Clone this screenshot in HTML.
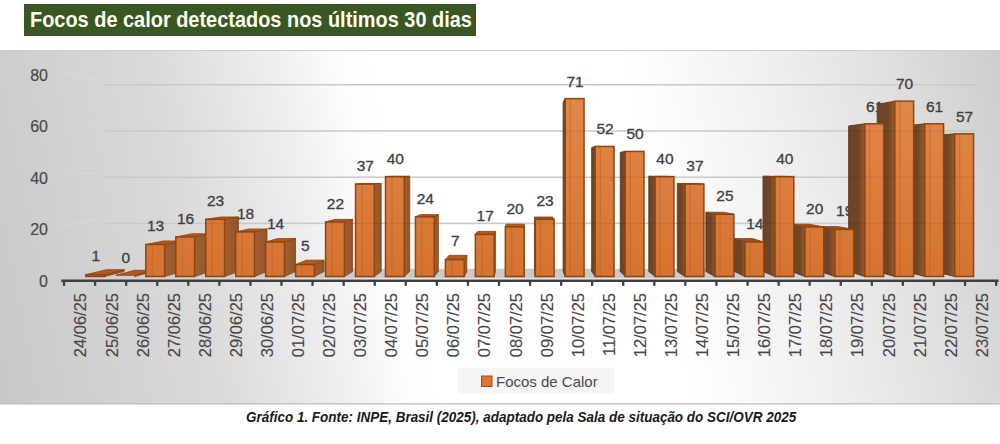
<!DOCTYPE html>
<html><head><meta charset="utf-8">
<style>
html,body{margin:0;padding:0;background:#fff;}
body{width:1000px;height:444px;overflow:hidden;position:relative;font-family:"Liberation Sans",sans-serif;}
#title{position:absolute;left:24px;top:4px;width:452px;height:31.5px;background:#385723;}
#title span{position:absolute;left:6px;top:4px;color:#fffff2;font-weight:bold;font-size:21.5px;line-height:24px;white-space:nowrap;transform:scaleX(0.927);transform-origin:0 0;}
#cap{position:absolute;left:246px;top:409px;font-weight:bold;font-style:italic;font-size:14px;color:#1a1a1a;white-space:nowrap;transform:scaleX(0.962);transform-origin:0 0;}
svg{position:absolute;left:0;top:0;}
</style></head><body>
<svg width="1000" height="444" viewBox="0 0 1000 444">
<defs>
<linearGradient id="bg" x1="-80" y1="0" x2="1000" y2="0" gradientUnits="userSpaceOnUse" gradientTransform="skewX(11.3)">
<stop offset="0" stop-color="#c8c8c8"/>
<stop offset="0.2037" stop-color="#dadada"/>
<stop offset="0.3241" stop-color="#f0f0f0"/>
<stop offset="0.3796" stop-color="#fdfdfd"/>
<stop offset="0.4074" stop-color="#ffffff"/>
<stop offset="0.6389" stop-color="#ffffff"/>
<stop offset="0.6667" stop-color="#fcfcfc"/>
<stop offset="0.7685" stop-color="#f0f0f0"/>
<stop offset="0.8796" stop-color="#e0e0e0"/>
<stop offset="1" stop-color="#cccccc"/>
</linearGradient>
<linearGradient id="fg" x1="0" y1="0" x2="1" y2="0">
<stop offset="0" stop-color="#e38a48"/>
<stop offset="0.3" stop-color="#e08644"/>
<stop offset="0.33" stop-color="#c96b2b"/>
<stop offset="0.38" stop-color="#da7835"/>
<stop offset="0.85" stop-color="#d87431"/>
<stop offset="1" stop-color="#c8621f"/>
</linearGradient>
<linearGradient id="fv" x1="0" y1="95" x2="0" y2="277" gradientUnits="userSpaceOnUse">
<stop offset="0" stop-color="#e2884a"/>
<stop offset="1" stop-color="#d57331"/>
</linearGradient>
<linearGradient id="sl" x1="0" y1="0" x2="1" y2="0">
<stop offset="0" stop-color="#a3602f"/>
<stop offset="1" stop-color="#90552b"/>
</linearGradient>
<linearGradient id="sr" x1="0" y1="0" x2="1" y2="0">
<stop offset="0" stop-color="#6a4526"/>
<stop offset="0.6" stop-color="#6e4627"/>
<stop offset="1" stop-color="#9a5a2a"/>
</linearGradient>
<linearGradient id="gl" x1="105" y1="0" x2="975" y2="0" gradientUnits="userSpaceOnUse">
<stop offset="0" stop-color="#d8d8d8" stop-opacity="0"/>
<stop offset="0.03" stop-color="#d6d6d6"/>
<stop offset="0.8" stop-color="#d6d6d6"/>
<stop offset="1" stop-color="#d6d6d6" stop-opacity="0"/>
</linearGradient>
<linearGradient id="fl" x1="62" y1="0" x2="998" y2="0" gradientUnits="userSpaceOnUse">
<stop offset="0" stop-color="#c0c0c0" stop-opacity="0"/>
<stop offset="0.3" stop-color="#c4c4c4" stop-opacity="0.9"/>
<stop offset="0.7" stop-color="#c4c4c4" stop-opacity="0.9"/>
<stop offset="1" stop-color="#c0c0c0" stop-opacity="0"/>
</linearGradient>
</defs>
<rect x="0" y="50" width="1000" height="354" fill="url(#bg)"/>
<line x1="0" y1="50.5" x2="1000" y2="50.5" stroke="#cdcdcd" stroke-width="1"/>
<line x1="0" y1="403.8" x2="1000" y2="403.8" stroke="#bdbdbd" stroke-width="1.2"/>
<line x1="62" y1="226.0" x2="98" y2="219.4" stroke="#ffffff" stroke-opacity="0.15" stroke-width="1.2"/>
<line x1="105" y1="223.4" x2="975" y2="223.4" stroke="url(#gl)" stroke-width="1.6"/>
<line x1="62" y1="174.5" x2="98" y2="173.2" stroke="#ffffff" stroke-opacity="0.15" stroke-width="1.2"/>
<line x1="105" y1="177.2" x2="975" y2="177.2" stroke="url(#gl)" stroke-width="1.6"/>
<line x1="62" y1="123.0" x2="98" y2="127.0" stroke="#ffffff" stroke-opacity="0.15" stroke-width="1.2"/>
<line x1="105" y1="131.0" x2="975" y2="131.0" stroke="url(#gl)" stroke-width="1.6"/>
<line x1="62" y1="71.5" x2="98" y2="80.8" stroke="#ffffff" stroke-opacity="0.15" stroke-width="1.2"/>
<line x1="105" y1="84.8" x2="975" y2="84.8" stroke="url(#gl)" stroke-width="1.6"/>
<polygon points="62.00,278.60 998.00,278.60 985.00,268.80 80.00,268.80" fill="url(#fl)"/>
<g font-family="Liberation Sans" font-size="15.5" fill="#404040" stroke="#404040" stroke-width="0.3">
<text x="95.7" y="260.9" text-anchor="middle">1</text>
<text x="125.7" y="263.3" text-anchor="middle">0</text>
<text x="155.6" y="231.0" text-anchor="middle">13</text>
<text x="185.6" y="223.6" text-anchor="middle">16</text>
<text x="215.5" y="206.2" text-anchor="middle">23</text>
<text x="245.5" y="218.6" text-anchor="middle">18</text>
<text x="275.5" y="228.5" text-anchor="middle">14</text>
<text x="305.4" y="250.9" text-anchor="middle">5</text>
<text x="335.4" y="208.7" text-anchor="middle">22</text>
<text x="365.3" y="171.4" text-anchor="middle">37</text>
<text x="395.3" y="163.9" text-anchor="middle">40</text>
<text x="425.3" y="203.7" text-anchor="middle">24</text>
<text x="455.2" y="245.9" text-anchor="middle">7</text>
<text x="485.2" y="221.1" text-anchor="middle">17</text>
<text x="515.1" y="213.6" text-anchor="middle">20</text>
<text x="545.1" y="206.2" text-anchor="middle">23</text>
<text x="575.1" y="86.9" text-anchor="middle">71</text>
<text x="605.0" y="134.1" text-anchor="middle">52</text>
<text x="635.0" y="139.1" text-anchor="middle">50</text>
<text x="664.9" y="163.9" text-anchor="middle">40</text>
<text x="694.9" y="171.4" text-anchor="middle">37</text>
<text x="724.9" y="201.2" text-anchor="middle">25</text>
<text x="754.8" y="228.5" text-anchor="middle">14</text>
<text x="784.8" y="163.9" text-anchor="middle">40</text>
<text x="814.7" y="213.6" text-anchor="middle">20</text>
<text x="844.7" y="216.1" text-anchor="middle">19</text>
<text x="874.7" y="111.8" text-anchor="middle">61</text>
<text x="904.6" y="89.4" text-anchor="middle">70</text>
<text x="934.6" y="111.8" text-anchor="middle">61</text>
<text x="964.5" y="121.7" text-anchor="middle">57</text>
</g>
<polygon points="104.70,274.69 124.22,269.76 124.22,271.49 104.70,276.50" fill="url(#sl)" stroke="#8a4a1c" stroke-width="0.9" stroke-linejoin="round"/>
<polygon points="85.90,274.69 104.70,274.69 124.22,269.76 106.30,269.76" fill="#b35b1c" stroke="#8f4512" stroke-width="0.9" stroke-linejoin="round"/>
<rect x="85.90" y="274.69" width="18.80" height="1.81" fill="url(#fv)" stroke="#8f4512" stroke-width="1.5"/>
<polygon points="134.66,275.30 152.77,270.35 152.77,271.49 134.66,276.50" fill="url(#sl)" stroke="#8a4a1c" stroke-width="0.9" stroke-linejoin="round"/>
<polygon points="115.86,275.30 134.66,275.30 152.77,270.35 134.85,270.35" fill="#b35b1c" stroke="#8f4512" stroke-width="0.9" stroke-linejoin="round"/>
<polygon points="164.62,244.50 181.32,241.00 181.32,271.49 164.62,276.50" fill="url(#sl)" stroke="#8a4a1c" stroke-width="0.9" stroke-linejoin="round"/>
<polygon points="145.82,244.50 164.62,244.50 181.32,241.00 163.41,241.00" fill="#b35b1c" stroke="#8f4512" stroke-width="0.9" stroke-linejoin="round"/>
<rect x="145.82" y="244.50" width="18.80" height="32.00" fill="url(#fv)" stroke="#8f4512" stroke-width="1.5"/>
<line x1="152.32" y1="245.50" x2="152.32" y2="275.50" stroke="#b85d1d" stroke-opacity="0.55" stroke-width="1"/>
<polygon points="194.58,236.96 209.87,233.81 209.87,271.49 194.58,276.50" fill="url(#sl)" stroke="#8a4a1c" stroke-width="0.9" stroke-linejoin="round"/>
<polygon points="175.78,236.96 194.58,236.96 209.87,233.81 191.96,233.81" fill="#b35b1c" stroke="#8f4512" stroke-width="0.9" stroke-linejoin="round"/>
<rect x="175.78" y="236.96" width="18.80" height="39.54" fill="url(#fv)" stroke="#8f4512" stroke-width="1.5"/>
<line x1="182.28" y1="237.96" x2="182.28" y2="275.50" stroke="#b85d1d" stroke-opacity="0.55" stroke-width="1"/>
<polygon points="224.54,219.35 238.43,217.04 238.43,271.49 224.54,276.50" fill="url(#sl)" stroke="#8a4a1c" stroke-width="0.9" stroke-linejoin="round"/>
<polygon points="205.74,219.35 224.54,219.35 238.43,217.04 220.51,217.04" fill="#b35b1c" stroke="#8f4512" stroke-width="0.9" stroke-linejoin="round"/>
<rect x="205.74" y="219.35" width="18.80" height="57.15" fill="url(#fv)" stroke="#8f4512" stroke-width="1.5"/>
<line x1="212.24" y1="220.35" x2="212.24" y2="275.50" stroke="#b85d1d" stroke-opacity="0.55" stroke-width="1"/>
<polygon points="254.50,231.93 266.98,229.02 266.98,271.49 254.50,276.50" fill="url(#sl)" stroke="#8a4a1c" stroke-width="0.9" stroke-linejoin="round"/>
<polygon points="235.70,231.93 254.50,231.93 266.98,229.02 249.06,229.02" fill="#b35b1c" stroke="#8f4512" stroke-width="0.9" stroke-linejoin="round"/>
<rect x="235.70" y="231.93" width="18.80" height="44.57" fill="url(#fv)" stroke="#8f4512" stroke-width="1.5"/>
<line x1="242.20" y1="232.93" x2="242.20" y2="275.50" stroke="#b85d1d" stroke-opacity="0.55" stroke-width="1"/>
<polygon points="284.46,241.99 295.53,238.61 295.53,271.49 284.46,276.50" fill="url(#sl)" stroke="#8a4a1c" stroke-width="0.9" stroke-linejoin="round"/>
<polygon points="265.66,241.99 284.46,241.99 295.53,238.61 277.61,238.61" fill="#b35b1c" stroke="#8f4512" stroke-width="0.9" stroke-linejoin="round"/>
<rect x="265.66" y="241.99" width="18.80" height="34.51" fill="url(#fv)" stroke="#8f4512" stroke-width="1.5"/>
<line x1="272.16" y1="242.99" x2="272.16" y2="275.50" stroke="#b85d1d" stroke-opacity="0.55" stroke-width="1"/>
<polygon points="314.42,264.62 324.08,260.18 324.08,271.49 314.42,276.50" fill="url(#sl)" stroke="#8a4a1c" stroke-width="0.9" stroke-linejoin="round"/>
<polygon points="295.62,264.62 314.42,264.62 324.08,260.18 306.17,260.18" fill="#b35b1c" stroke="#8f4512" stroke-width="0.9" stroke-linejoin="round"/>
<rect x="295.62" y="264.62" width="18.80" height="11.88" fill="url(#fv)" stroke="#8f4512" stroke-width="1.5"/>
<line x1="302.12" y1="265.62" x2="302.12" y2="275.50" stroke="#b85d1d" stroke-opacity="0.55" stroke-width="1"/>
<polygon points="344.38,221.87 352.63,219.43 352.63,271.49 344.38,276.50" fill="url(#sl)" stroke="#8a4a1c" stroke-width="0.9" stroke-linejoin="round"/>
<polygon points="325.58,221.87 344.38,221.87 352.63,219.43 334.72,219.43" fill="#b35b1c" stroke="#8f4512" stroke-width="0.9" stroke-linejoin="round"/>
<rect x="325.58" y="221.87" width="18.80" height="54.63" fill="url(#fv)" stroke="#8f4512" stroke-width="1.5"/>
<line x1="332.08" y1="222.87" x2="332.08" y2="275.50" stroke="#b85d1d" stroke-opacity="0.55" stroke-width="1"/>
<polygon points="374.34,184.14 381.19,183.48 381.19,271.49 374.34,276.50" fill="url(#sl)" stroke="#8a4a1c" stroke-width="0.9" stroke-linejoin="round"/>
<polygon points="355.54,184.14 374.34,184.14 381.19,183.48 363.27,183.48" fill="#b35b1c" stroke="#8f4512" stroke-width="0.9" stroke-linejoin="round"/>
<rect x="355.54" y="184.14" width="18.80" height="92.36" fill="url(#fv)" stroke="#8f4512" stroke-width="1.5"/>
<line x1="362.04" y1="185.14" x2="362.04" y2="275.50" stroke="#b85d1d" stroke-opacity="0.55" stroke-width="1"/>
<polygon points="404.30,176.60 409.74,176.29 409.74,271.49 404.30,276.50" fill="url(#sl)" stroke="#8a4a1c" stroke-width="0.9" stroke-linejoin="round"/>
<polygon points="385.50,176.60 404.30,176.60 409.74,176.29 391.82,176.29" fill="#b35b1c" stroke="#8f4512" stroke-width="0.9" stroke-linejoin="round"/>
<rect x="385.50" y="176.60" width="18.80" height="99.90" fill="url(#fv)" stroke="#8f4512" stroke-width="1.5"/>
<line x1="392.00" y1="177.60" x2="392.00" y2="275.50" stroke="#b85d1d" stroke-opacity="0.55" stroke-width="1"/>
<polygon points="434.26,216.84 438.29,214.64 438.29,271.49 434.26,276.50" fill="url(#sl)" stroke="#8a4a1c" stroke-width="0.9" stroke-linejoin="round"/>
<polygon points="415.46,216.84 434.26,216.84 438.29,214.64 420.37,214.64" fill="#b35b1c" stroke="#8f4512" stroke-width="0.9" stroke-linejoin="round"/>
<rect x="415.46" y="216.84" width="18.80" height="59.66" fill="url(#fv)" stroke="#8f4512" stroke-width="1.5"/>
<line x1="421.96" y1="217.84" x2="421.96" y2="275.50" stroke="#b85d1d" stroke-opacity="0.55" stroke-width="1"/>
<polygon points="464.22,259.59 466.84,255.38 466.84,271.49 464.22,276.50" fill="url(#sl)" stroke="#8a4a1c" stroke-width="0.9" stroke-linejoin="round"/>
<polygon points="445.42,259.59 464.22,259.59 466.84,255.38 448.93,255.38" fill="#b35b1c" stroke="#8f4512" stroke-width="0.9" stroke-linejoin="round"/>
<rect x="445.42" y="259.59" width="18.80" height="16.91" fill="url(#fv)" stroke="#8f4512" stroke-width="1.5"/>
<line x1="451.92" y1="260.59" x2="451.92" y2="275.50" stroke="#b85d1d" stroke-opacity="0.55" stroke-width="1"/>
<polygon points="494.18,234.44 495.39,231.42 495.39,271.49 494.18,276.50" fill="url(#sl)" stroke="#8a4a1c" stroke-width="0.9" stroke-linejoin="round"/>
<polygon points="475.38,234.44 494.18,234.44 495.39,231.42 477.48,231.42" fill="#b35b1c" stroke="#8f4512" stroke-width="0.9" stroke-linejoin="round"/>
<rect x="475.38" y="234.44" width="18.80" height="42.06" fill="url(#fv)" stroke="#8f4512" stroke-width="1.5"/>
<line x1="481.88" y1="235.44" x2="481.88" y2="275.50" stroke="#b85d1d" stroke-opacity="0.55" stroke-width="1"/>
<polygon points="524.14,226.90 523.95,224.23 523.95,271.49 524.14,276.50" fill="url(#sl)" stroke="#8a4a1c" stroke-width="0.9" stroke-linejoin="round"/>
<polygon points="505.34,226.90 524.14,226.90 523.95,224.23 506.03,224.23" fill="#b35b1c" stroke="#8f4512" stroke-width="0.9" stroke-linejoin="round"/>
<rect x="505.34" y="226.90" width="18.80" height="49.60" fill="url(#fv)" stroke="#8f4512" stroke-width="1.5"/>
<line x1="511.84" y1="227.90" x2="511.84" y2="275.50" stroke="#b85d1d" stroke-opacity="0.55" stroke-width="1"/>
<polygon points="954.74,133.84 934.31,135.54 934.31,271.49 954.74,276.50" fill="url(#sr)" stroke="#5e3617" stroke-width="0.9" stroke-linejoin="round"/>
<rect x="954.74" y="133.84" width="18.80" height="142.66" fill="url(#fv)" stroke="#8f4512" stroke-width="1.5"/>
<line x1="959.74" y1="134.84" x2="959.74" y2="275.50" stroke="#b85d1d" stroke-opacity="0.55" stroke-width="1"/>
<polygon points="924.78,123.78 905.76,125.96 905.76,271.49 924.78,276.50" fill="url(#sr)" stroke="#5e3617" stroke-width="0.9" stroke-linejoin="round"/>
<rect x="924.78" y="123.78" width="18.80" height="152.72" fill="url(#fv)" stroke="#8f4512" stroke-width="1.5"/>
<line x1="929.78" y1="124.78" x2="929.78" y2="275.50" stroke="#b85d1d" stroke-opacity="0.55" stroke-width="1"/>
<polygon points="894.82,101.15 877.20,104.39 877.20,271.49 894.82,276.50" fill="url(#sr)" stroke="#5e3617" stroke-width="0.9" stroke-linejoin="round"/>
<rect x="894.82" y="101.15" width="18.80" height="175.35" fill="url(#fv)" stroke="#8f4512" stroke-width="1.5"/>
<line x1="899.82" y1="102.15" x2="899.82" y2="275.50" stroke="#b85d1d" stroke-opacity="0.55" stroke-width="1"/>
<polygon points="864.86,123.78 848.65,125.96 848.65,271.49 864.86,276.50" fill="url(#sr)" stroke="#5e3617" stroke-width="0.9" stroke-linejoin="round"/>
<rect x="864.86" y="123.78" width="18.80" height="152.72" fill="url(#fv)" stroke="#8f4512" stroke-width="1.5"/>
<line x1="869.86" y1="124.78" x2="869.86" y2="275.50" stroke="#b85d1d" stroke-opacity="0.55" stroke-width="1"/>
<polygon points="834.90,229.41 820.10,226.62 820.10,271.49 834.90,276.50" fill="url(#sr)" stroke="#5e3617" stroke-width="0.9" stroke-linejoin="round"/>
<polygon points="834.90,229.41 853.70,229.41 838.02,226.62 820.10,226.62" fill="#9a5424" stroke="#8f4512" stroke-width="0.9" stroke-linejoin="round"/>
<rect x="834.90" y="229.41" width="18.80" height="47.09" fill="url(#fv)" stroke="#8f4512" stroke-width="1.5"/>
<line x1="839.90" y1="230.41" x2="839.90" y2="275.50" stroke="#b85d1d" stroke-opacity="0.55" stroke-width="1"/>
<polygon points="804.94,226.90 791.55,224.23 791.55,271.49 804.94,276.50" fill="url(#sr)" stroke="#5e3617" stroke-width="0.9" stroke-linejoin="round"/>
<polygon points="804.94,226.90 823.74,226.90 809.46,224.23 791.55,224.23" fill="#9a5424" stroke="#8f4512" stroke-width="0.9" stroke-linejoin="round"/>
<rect x="804.94" y="226.90" width="18.80" height="49.60" fill="url(#fv)" stroke="#8f4512" stroke-width="1.5"/>
<line x1="809.94" y1="227.90" x2="809.94" y2="275.50" stroke="#b85d1d" stroke-opacity="0.55" stroke-width="1"/>
<polygon points="774.98,176.60 763.00,176.29 763.00,271.49 774.98,276.50" fill="url(#sr)" stroke="#5e3617" stroke-width="0.9" stroke-linejoin="round"/>
<polygon points="774.98,176.60 793.78,176.60 780.91,176.29 763.00,176.29" fill="#9a5424" stroke="#8f4512" stroke-width="0.9" stroke-linejoin="round"/>
<rect x="774.98" y="176.60" width="18.80" height="99.90" fill="url(#fv)" stroke="#8f4512" stroke-width="1.5"/>
<line x1="779.98" y1="177.60" x2="779.98" y2="275.50" stroke="#b85d1d" stroke-opacity="0.55" stroke-width="1"/>
<polygon points="745.02,241.99 734.44,238.61 734.44,271.49 745.02,276.50" fill="url(#sr)" stroke="#5e3617" stroke-width="0.9" stroke-linejoin="round"/>
<polygon points="745.02,241.99 763.82,241.99 752.36,238.61 734.44,238.61" fill="#9a5424" stroke="#8f4512" stroke-width="0.9" stroke-linejoin="round"/>
<rect x="745.02" y="241.99" width="18.80" height="34.51" fill="url(#fv)" stroke="#8f4512" stroke-width="1.5"/>
<line x1="750.02" y1="242.99" x2="750.02" y2="275.50" stroke="#b85d1d" stroke-opacity="0.55" stroke-width="1"/>
<polygon points="715.06,214.32 705.89,212.24 705.89,271.49 715.06,276.50" fill="url(#sr)" stroke="#5e3617" stroke-width="0.9" stroke-linejoin="round"/>
<polygon points="715.06,214.32 733.86,214.32 723.81,212.24 705.89,212.24" fill="#9a5424" stroke="#8f4512" stroke-width="0.9" stroke-linejoin="round"/>
<rect x="715.06" y="214.32" width="18.80" height="62.18" fill="url(#fv)" stroke="#8f4512" stroke-width="1.5"/>
<line x1="720.06" y1="215.32" x2="720.06" y2="275.50" stroke="#b85d1d" stroke-opacity="0.55" stroke-width="1"/>
<polygon points="685.10,184.14 677.34,183.48 677.34,271.49 685.10,276.50" fill="url(#sr)" stroke="#5e3617" stroke-width="0.9" stroke-linejoin="round"/>
<polygon points="685.10,184.14 703.90,184.14 695.26,183.48 677.34,183.48" fill="#9a5424" stroke="#8f4512" stroke-width="0.9" stroke-linejoin="round"/>
<rect x="685.10" y="184.14" width="18.80" height="92.36" fill="url(#fv)" stroke="#8f4512" stroke-width="1.5"/>
<line x1="690.10" y1="185.14" x2="690.10" y2="275.50" stroke="#b85d1d" stroke-opacity="0.55" stroke-width="1"/>
<polygon points="655.14,176.60 648.79,176.29 648.79,271.49 655.14,276.50" fill="url(#sr)" stroke="#5e3617" stroke-width="0.9" stroke-linejoin="round"/>
<polygon points="655.14,176.60 673.94,176.60 666.70,176.29 648.79,176.29" fill="#9a5424" stroke="#8f4512" stroke-width="0.9" stroke-linejoin="round"/>
<rect x="655.14" y="176.60" width="18.80" height="99.90" fill="url(#fv)" stroke="#8f4512" stroke-width="1.5"/>
<line x1="660.14" y1="177.60" x2="660.14" y2="275.50" stroke="#b85d1d" stroke-opacity="0.55" stroke-width="1"/>
<polygon points="625.18,151.45 620.24,152.32 620.24,271.49 625.18,276.50" fill="url(#sr)" stroke="#5e3617" stroke-width="0.9" stroke-linejoin="round"/>
<rect x="625.18" y="151.45" width="18.80" height="125.05" fill="url(#fv)" stroke="#8f4512" stroke-width="1.5"/>
<line x1="630.18" y1="152.45" x2="630.18" y2="275.50" stroke="#b85d1d" stroke-opacity="0.55" stroke-width="1"/>
<polygon points="595.22,146.42 591.68,147.53 591.68,271.49 595.22,276.50" fill="url(#sr)" stroke="#5e3617" stroke-width="0.9" stroke-linejoin="round"/>
<rect x="595.22" y="146.42" width="18.80" height="130.08" fill="url(#fv)" stroke="#8f4512" stroke-width="1.5"/>
<line x1="600.22" y1="147.42" x2="600.22" y2="275.50" stroke="#b85d1d" stroke-opacity="0.55" stroke-width="1"/>
<polygon points="565.26,98.63 563.13,101.99 563.13,271.49 565.26,276.50" fill="url(#sr)" stroke="#5e3617" stroke-width="0.9" stroke-linejoin="round"/>
<rect x="565.26" y="98.63" width="18.80" height="177.87" fill="url(#fv)" stroke="#8f4512" stroke-width="1.5"/>
<line x1="570.26" y1="99.63" x2="570.26" y2="275.50" stroke="#b85d1d" stroke-opacity="0.55" stroke-width="1"/>
<polygon points="535.30,219.35 534.58,217.04 534.58,271.49 535.30,276.50" fill="url(#sr)" stroke="#5e3617" stroke-width="0.9" stroke-linejoin="round"/>
<polygon points="535.30,219.35 554.10,219.35 552.50,217.04 534.58,217.04" fill="#9a5424" stroke="#8f4512" stroke-width="0.9" stroke-linejoin="round"/>
<rect x="535.30" y="219.35" width="18.80" height="57.15" fill="url(#fv)" stroke="#8f4512" stroke-width="1.5"/>
<line x1="540.30" y1="220.35" x2="540.30" y2="275.50" stroke="#b85d1d" stroke-opacity="0.55" stroke-width="1"/>
<line x1="105" y1="223.4" x2="975" y2="223.4" stroke="#000" stroke-opacity="0.06" stroke-width="1.4"/>
<line x1="105" y1="177.2" x2="975" y2="177.2" stroke="#000" stroke-opacity="0.06" stroke-width="1.4"/>
<line x1="105" y1="131.0" x2="975" y2="131.0" stroke="#000" stroke-opacity="0.06" stroke-width="1.4"/>
<line x1="105" y1="84.8" x2="975" y2="84.8" stroke="#000" stroke-opacity="0.06" stroke-width="1.4"/>
<rect x="61.3" y="279.5" width="937.3" height="2.5" fill="#3f3f3f"/>
<rect x="62.9" y="280" width="2.3" height="5.8" fill="#3f3f3f"/>
<rect x="93.9" y="280" width="2.3" height="5.8" fill="#3f3f3f"/>
<rect x="125.0" y="280" width="2.3" height="5.8" fill="#3f3f3f"/>
<rect x="156.1" y="280" width="2.3" height="5.8" fill="#3f3f3f"/>
<rect x="187.1" y="280" width="2.3" height="5.8" fill="#3f3f3f"/>
<rect x="218.2" y="280" width="2.3" height="5.8" fill="#3f3f3f"/>
<rect x="249.3" y="280" width="2.3" height="5.8" fill="#3f3f3f"/>
<rect x="280.3" y="280" width="2.3" height="5.8" fill="#3f3f3f"/>
<rect x="311.4" y="280" width="2.3" height="5.8" fill="#3f3f3f"/>
<rect x="342.5" y="280" width="2.3" height="5.8" fill="#3f3f3f"/>
<rect x="373.6" y="280" width="2.3" height="5.8" fill="#3f3f3f"/>
<rect x="404.6" y="280" width="2.3" height="5.8" fill="#3f3f3f"/>
<rect x="435.7" y="280" width="2.3" height="5.8" fill="#3f3f3f"/>
<rect x="466.8" y="280" width="2.3" height="5.8" fill="#3f3f3f"/>
<rect x="497.8" y="280" width="2.3" height="5.8" fill="#3f3f3f"/>
<rect x="528.9" y="280" width="2.3" height="5.8" fill="#3f3f3f"/>
<rect x="560.0" y="280" width="2.3" height="5.8" fill="#3f3f3f"/>
<rect x="591.0" y="280" width="2.3" height="5.8" fill="#3f3f3f"/>
<rect x="622.1" y="280" width="2.3" height="5.8" fill="#3f3f3f"/>
<rect x="653.2" y="280" width="2.3" height="5.8" fill="#3f3f3f"/>
<rect x="684.2" y="280" width="2.3" height="5.8" fill="#3f3f3f"/>
<rect x="715.3" y="280" width="2.3" height="5.8" fill="#3f3f3f"/>
<rect x="746.4" y="280" width="2.3" height="5.8" fill="#3f3f3f"/>
<rect x="777.5" y="280" width="2.3" height="5.8" fill="#3f3f3f"/>
<rect x="808.5" y="280" width="2.3" height="5.8" fill="#3f3f3f"/>
<rect x="839.6" y="280" width="2.3" height="5.8" fill="#3f3f3f"/>
<rect x="870.7" y="280" width="2.3" height="5.8" fill="#3f3f3f"/>
<rect x="901.7" y="280" width="2.3" height="5.8" fill="#3f3f3f"/>
<rect x="932.8" y="280" width="2.3" height="5.8" fill="#3f3f3f"/>
<rect x="963.9" y="280" width="2.3" height="5.8" fill="#3f3f3f"/>
<rect x="995.0" y="280" width="2.3" height="5.8" fill="#3f3f3f"/>
<g font-family="Liberation Sans" font-size="16" fill="#474747" stroke="#474747" stroke-width="0.15">
<text x="48" y="286.7" text-anchor="end">0</text>
<text x="48" y="235.2" text-anchor="end">20</text>
<text x="48" y="183.7" text-anchor="end">40</text>
<text x="48" y="132.2" text-anchor="end">60</text>
<text x="48" y="80.7" text-anchor="end">80</text>
</g>
<g font-family="Liberation Sans" font-size="16.5" fill="#474747" stroke="#474747" stroke-width="0.12">
<text transform="translate(86.4,293) rotate(-90)" text-anchor="end">24/06/25</text>
<text transform="translate(117.5,293) rotate(-90)" text-anchor="end">25/06/25</text>
<text transform="translate(148.6,293) rotate(-90)" text-anchor="end">26/06/25</text>
<text transform="translate(179.6,293) rotate(-90)" text-anchor="end">27/06/25</text>
<text transform="translate(210.7,293) rotate(-90)" text-anchor="end">28/06/25</text>
<text transform="translate(241.8,293) rotate(-90)" text-anchor="end">29/06/25</text>
<text transform="translate(272.9,293) rotate(-90)" text-anchor="end">30/06/25</text>
<text transform="translate(304.0,293) rotate(-90)" text-anchor="end">01/07/25</text>
<text transform="translate(335.0,293) rotate(-90)" text-anchor="end">02/07/25</text>
<text transform="translate(366.1,293) rotate(-90)" text-anchor="end">03/07/25</text>
<text transform="translate(397.2,293) rotate(-90)" text-anchor="end">04/07/25</text>
<text transform="translate(428.3,293) rotate(-90)" text-anchor="end">05/07/25</text>
<text transform="translate(459.4,293) rotate(-90)" text-anchor="end">06/07/25</text>
<text transform="translate(490.4,293) rotate(-90)" text-anchor="end">07/07/25</text>
<text transform="translate(521.5,293) rotate(-90)" text-anchor="end">08/07/25</text>
<text transform="translate(552.6,293) rotate(-90)" text-anchor="end">09/07/25</text>
<text transform="translate(583.7,293) rotate(-90)" text-anchor="end">10/07/25</text>
<text transform="translate(614.8,293) rotate(-90)" text-anchor="end">11/07/25</text>
<text transform="translate(645.8,293) rotate(-90)" text-anchor="end">12/07/25</text>
<text transform="translate(676.9,293) rotate(-90)" text-anchor="end">13/07/25</text>
<text transform="translate(708.0,293) rotate(-90)" text-anchor="end">14/07/25</text>
<text transform="translate(739.1,293) rotate(-90)" text-anchor="end">15/07/25</text>
<text transform="translate(770.2,293) rotate(-90)" text-anchor="end">16/07/25</text>
<text transform="translate(801.2,293) rotate(-90)" text-anchor="end">17/07/25</text>
<text transform="translate(832.3,293) rotate(-90)" text-anchor="end">18/07/25</text>
<text transform="translate(863.4,293) rotate(-90)" text-anchor="end">19/07/25</text>
<text transform="translate(894.5,293) rotate(-90)" text-anchor="end">20/07/25</text>
<text transform="translate(925.6,293) rotate(-90)" text-anchor="end">21/07/25</text>
<text transform="translate(956.6,293) rotate(-90)" text-anchor="end">22/07/25</text>
<text transform="translate(987.7,293) rotate(-90)" text-anchor="end">23/07/25</text>
</g>
<rect x="458" y="367.6" width="156" height="26" fill="#f3f3f3" fill-opacity="0.85"/>
<rect x="481.5" y="376" width="10.5" height="10.5" fill="#dc7634" stroke="#9a4c17" stroke-width="1"/>
<text x="496" y="386.6" font-family="Liberation Sans" font-size="15" fill="#4a4a4a">Focos de Calor</text>
</svg>
<div id="title"><span>Focos de calor detectados nos últimos 30 dias</span></div>
<div id="cap">Gráfico 1. Fonte: INPE, Brasil (2025), adaptado pela Sala de situação do SCI/OVR 2025</div>
</body></html>
